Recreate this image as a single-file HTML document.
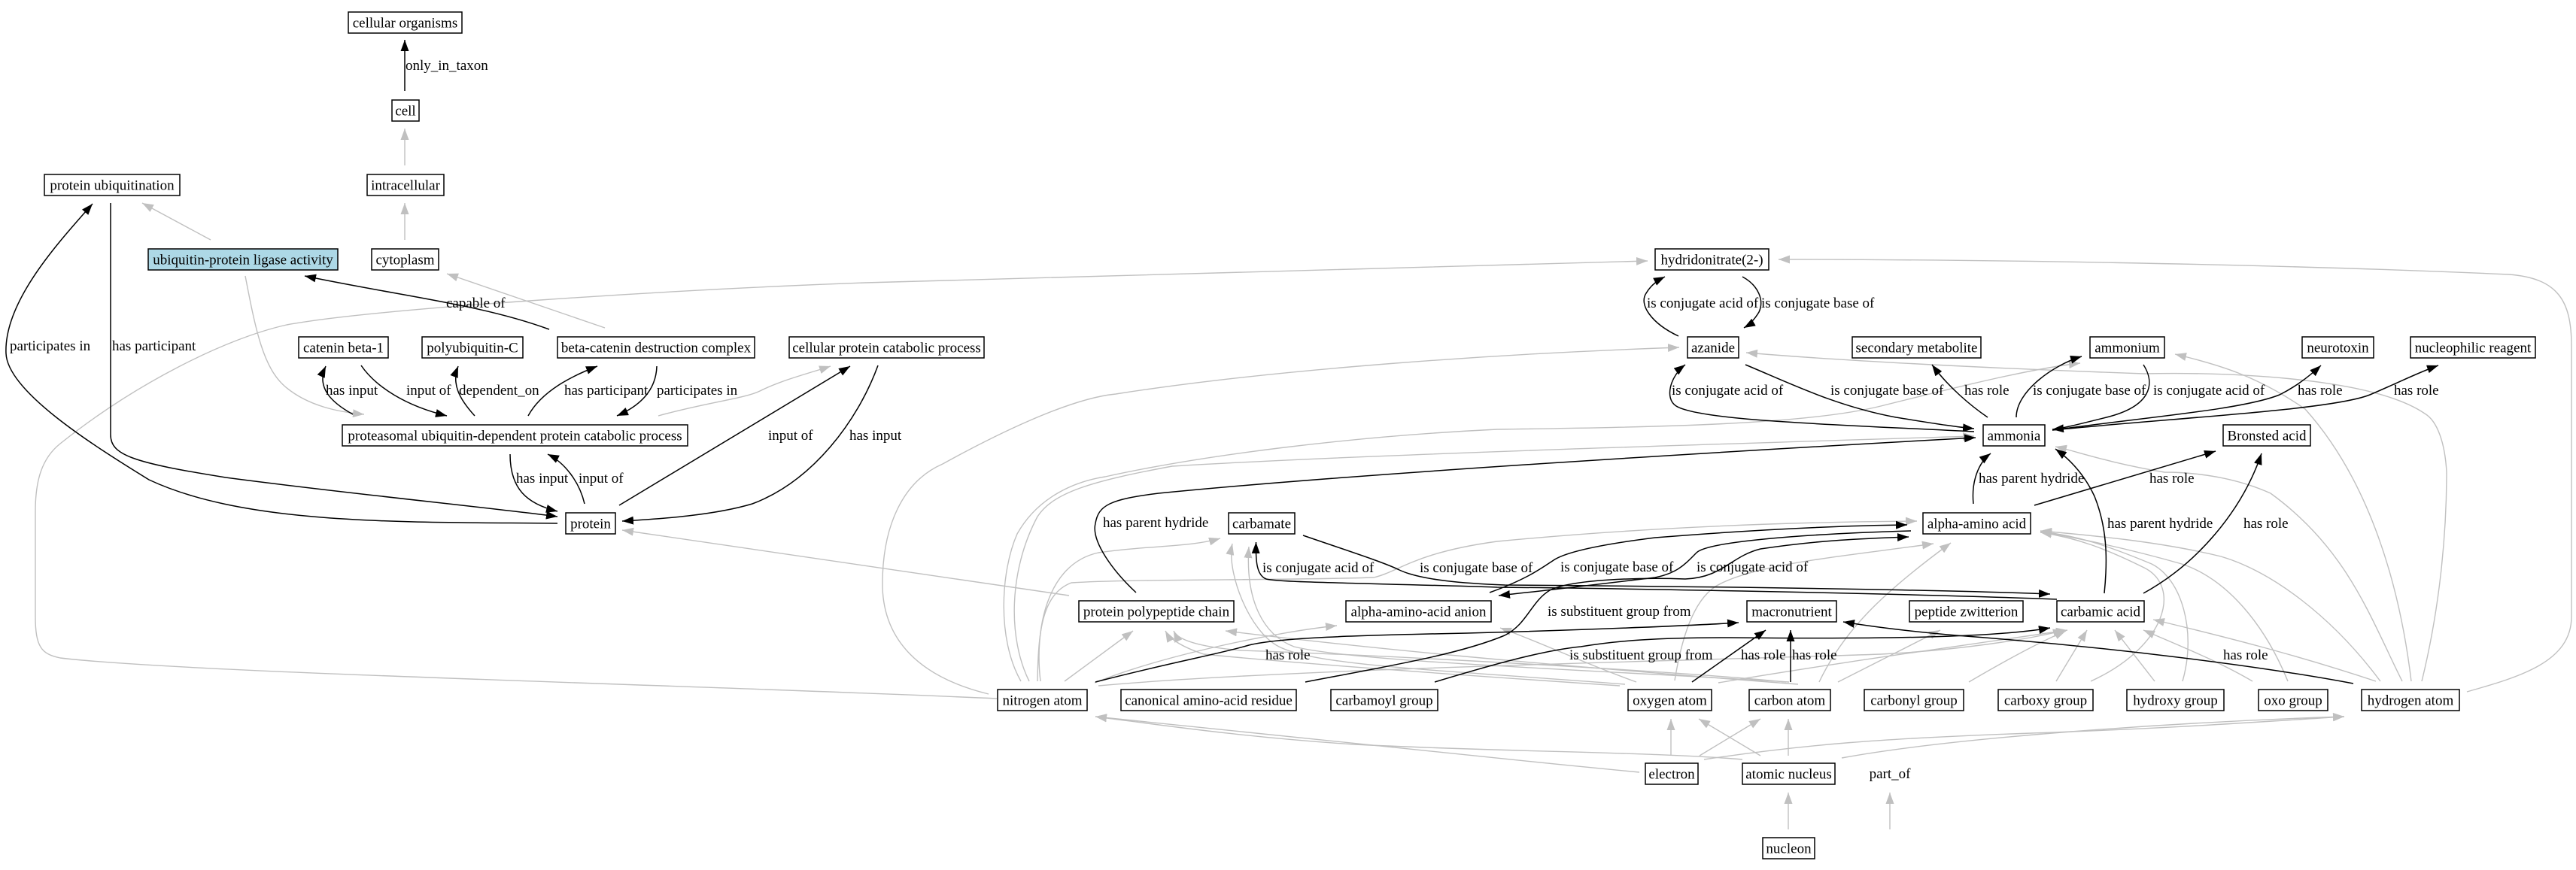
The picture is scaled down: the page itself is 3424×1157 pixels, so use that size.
<!DOCTYPE html>
<html>
<head>
<meta charset="utf-8">
<style>
html,body{margin:0;padding:0;background:#fff;}
svg{display:block;}
text{font-family:"Liberation Serif","Times New Roman",serif;font-size:19px;fill:#000;}
.n rect{fill:#fff;stroke:#000;stroke-width:1.5;}
.n text{text-anchor:middle;}
.g path{fill:none;stroke:#c0c0c0;stroke-width:1.4;marker-end:url(#ag);}
.b path{fill:none;stroke:#000;stroke-width:1.5;marker-end:url(#ab);}
</style>
</head>
<body>
<svg width="3424" height="1157" viewBox="0 0 3424 1157" xmlns="http://www.w3.org/2000/svg">
<defs>
<marker id="ab" markerUnits="userSpaceOnUse" markerWidth="15" markerHeight="11" viewBox="0 0 15 11" refX="15" refY="5.5" orient="auto"><path d="M0,0 L15,5.5 L0,11 z" fill="#000"/></marker>
<marker id="ag" markerUnits="userSpaceOnUse" markerWidth="15" markerHeight="11" viewBox="0 0 15 11" refX="15" refY="5.5" orient="auto"><path d="M0,0 L15,5.5 L0,11 z" fill="#c0c0c0"/></marker>
</defs>
<rect width="3424" height="1157" fill="#fff"/>

<!-- gray edges -->
<g class="g">
<path d="M538,220 L538,171"/>
<path d="M538,319 L538,270"/>
<path d="M280,319 L189,270"/>
<path d="M804,436 L594,364"/>
<path d="M326,367 C340,440 350,490 380,515 C410,540 450,548 484,551"/>
<path d="M875,553 C940,535 990,530 1010,520 C1040,505 1080,495 1104,487"/>
<path d="M1421,792 L827,705"/>
<path d="M1325,929 C900,910 250,895 80,875 C55,870 47,860 47,820 L47,680 C47,640 55,610 80,590 C180,510 300,450 381,432 C500,410 900,385 1150,376 L2190,347"/>
<path d="M1314,923 C1220,900 1175,850 1173,781 C1172,700 1200,640 1253,617 C1320,580 1420,530 1483,524 C1700,490 2000,470 2232,462"/>
<path d="M1357,906 C1325,850 1330,760 1352,710 C1380,660 1430,640 1469,634 C1600,605 1800,580 1990,571 C2200,568 2400,565 2500,540 C2600,515 2700,490 2765,483"/>
<path d="M1368,906 C1340,850 1340,760 1379,687 C1400,655 1450,640 1558,620 C1800,605 2300,590 2624,580"/>
<path d="M1379,906 C1380,840 1385,790 1424,775 C1500,770 1700,772 1826,768 C1860,760 1880,735 1990,720 C2200,700 2400,694 2548,693"/>
<path d="M1383,906 C1375,840 1390,750 1460,735 C1530,725 1580,728 1622,716"/>
<path d="M1415,906 L1506,839"/>
<path d="M1455,908 C1550,870 1700,840 1777,832"/>
<path d="M1460,912 C1700,890 2200,880 2500,870 C2600,865 2700,850 2744,838"/>
<path d="M2153,912 C1900,895 1700,880 1600,870 C1570,860 1555,850 1549,839"/>
<path d="M2160,910 C1900,890 1750,885 1700,860 C1660,840 1630,760 1638,723"/>
<path d="M2175,907 C2100,880 2050,855 1994,835"/>
<path d="M2226,905 C2235,850 2250,800 2280,780 C2330,750 2450,740 2570,723"/>
<path d="M2284,908 C2450,880 2600,860 2748,838"/>
<path d="M2374,907 C2200,890 1800,870 1650,865 C1590,860 1565,850 1560,839"/>
<path d="M2378,907 C2100,890 1800,880 1720,860 C1680,845 1655,800 1660,727"/>
<path d="M2390,910 C2000,880 1800,860 1629,839"/>
<path d="M2418,907 C2450,840 2500,790 2593,722"/>
<path d="M2443,907 L2579,838"/>
<path d="M2617,907 C2680,870 2720,850 2746,839"/>
<path d="M2733,906 L2774,838"/>
<path d="M2779,906 C2880,860 2900,780 2850,755 C2800,730 2760,715 2712,708"/>
<path d="M2864,906 L2811,838"/>
<path d="M2901,906 C2920,840 2900,770 2860,750 C2800,725 2760,712 2712,707"/>
<path d="M2994,906 C2950,880 2900,860 2849,838"/>
<path d="M3041,906 C3010,830 2960,770 2900,750 C2830,730 2760,715 2712,707"/>
<path d="M3158,906 C3050,870 2950,845 2862,824"/>
<path d="M3164,906 C3100,820 3020,760 2952,740 C2870,720 2780,712 2712,706"/>
<path d="M3193,906 C3150,820 3120,730 3018,656 C2960,630 2900,628 2877,628 C2800,615 2760,600 2732,594"/>
<path d="M3205,906 C3190,780 3150,640 3064,544 C3000,500 2950,485 2891,471"/>
<path d="M3219,906 C3245,800 3252,700 3252,628 C3250,590 3240,560 3223,550 C3150,500 2950,495 2850,497 C2650,490 2450,480 2321,469"/>
<path d="M3279,920 C3350,900 3418,880 3418,820 L3418,460 C3418,400 3400,370 3335,365 C3000,350 2600,345 2364,345"/>
<path d="M2179,1027 C1900,1000 1600,970 1456,953"/>
<path d="M2316,1010 C2200,1000 2000,1000 1800,990 C1650,980 1550,965 1456,953"/>
<path d="M2221,1005 L2221,956"/>
<path d="M2259,1005 L2340,956"/>
<path d="M2340,1005 L2258,956"/>
<path d="M2377,1005 L2377,956"/>
<path d="M2448,1008 C2600,980 2900,960 3116,953"/>
<path d="M2265,1010 C2400,990 2500,982 2700,975 C2900,968 3000,960 3116,953"/>
<path d="M2377,1103 L2377,1054"/>
<path d="M2512,1103 L2512,1054"/>
</g>

<!-- black edges -->
<g class="b">
<path d="M538,121 L538,53"/>
<path d="M147,270 L147,578 C147,605 175,615 300,635 C450,655 650,675 741,687"/>
<path d="M741,696 C550,694 330,700 198,638 C120,590 10,520 8,470 C5,400 80,320 123,271"/>
<path d="M730,438 C640,405 540,395 405,367"/>
<path d="M469,551 C440,535 420,515 433,487"/>
<path d="M480,486 C500,515 540,540 594,553"/>
<path d="M631,553 C610,530 600,510 609,487"/>
<path d="M702,553 C720,520 760,500 794,487"/>
<path d="M873,487 C872,520 850,540 820,553"/>
<path d="M823,672 L1130,487"/>
<path d="M1167,486 C1140,560 1080,640 1000,670 C950,685 880,690 827,693"/>
<path d="M678,604 C678,650 700,670 741,680"/>
<path d="M777,670 C770,640 750,615 728,604"/>
<path d="M2231,447 C2195,430 2178,405 2188,390 C2195,378 2205,372 2213,368"/>
<path d="M2316,368 C2338,380 2345,400 2338,415 C2332,425 2325,432 2318,436"/>
<path d="M2624,574 C2450,565 2260,560 2228,540 C2212,530 2220,500 2240,485"/>
<path d="M2320,485 C2380,510 2440,540 2520,555 C2570,563 2600,568 2624,570"/>
<path d="M2642,555 C2620,540 2590,515 2568,485"/>
<path d="M2680,555 C2680,520 2730,485 2767,474"/>
<path d="M2849,485 C2865,510 2860,540 2800,555 C2760,565 2740,570 2728,571"/>
<path d="M2728,572 C2850,555 2980,545 3030,525 C3050,515 3070,500 3085,486"/>
<path d="M2728,572 C2900,555 3100,545 3150,525 C3190,508 3215,495 3241,486"/>
<path d="M1510,788 C1480,760 1450,720 1456,696 C1460,672 1475,664 1540,656 C1800,630 2300,600 2626,582"/>
<path d="M2623,670 C2620,640 2630,615 2646,603"/>
<path d="M2704,672 L2945,600"/>
<path d="M2797,789 C2802,740 2800,700 2784,660 C2770,630 2750,610 2732,597"/>
<path d="M2849,789 C2920,750 2980,680 3006,603"/>
<path d="M2734,797 C2500,788 2100,782 1990,781 C1850,776 1700,775 1683,770 C1670,765 1669,745 1669.5,721"/>
<path d="M1732,712 C1790,732 1840,748 1860,758 C1890,772 1950,776 2000,778 C2300,780 2600,785 2725,790"/>
<path d="M1980,788 C2030,770 2050,755 2065,745 C2080,735 2120,725 2200,715 C2350,703 2450,699 2535,698"/>
<path d="M2540,706 C2400,710 2270,720 2255,735 C2240,750 2230,762 2200,768 C2100,780 2050,786 1992,792"/>
<path d="M1735,907 C1850,885 1940,870 2000,845 C2030,830 2035,800 2060,785 C2090,770 2180,768 2240,770 C2290,768 2300,740 2340,730 C2420,718 2480,716 2537,714"/>
<path d="M1456,907 C1560,880 1620,870 1660,858 C1700,848 1800,845 1950,842 C2100,838 2250,832 2311,828"/>
<path d="M1907,907 C1980,885 2050,865 2101,860 C2150,852 2200,848 2300,848 C2500,850 2650,848 2725,835"/>
<path d="M2249,907 L2347,838"/>
<path d="M2380,907 L2380,838"/>
<path d="M3128,909 C3000,885 2800,860 2600,845 C2520,838 2480,832 2450,827"/>
</g>

<!-- edge labels -->
<g>
<text x="539" y="93">only_in_taxon</text>
<text x="13" y="466">participates in</text>
<text x="149" y="466">has participant</text>
<text x="593" y="409">capable of</text>
<text x="433" y="525">has input</text>
<text x="540" y="525">input of</text>
<text x="610" y="525">dependent_on</text>
<text x="750" y="525">has participant</text>
<text x="873" y="525">participates in</text>
<text x="1021" y="585">input of</text>
<text x="1129" y="585">has input</text>
<text x="686" y="642">has input</text>
<text x="769" y="642">input of</text>
<text x="2189" y="409">is conjugate acid of</text>
<text x="2341" y="409">is conjugate base of</text>
<text x="2222" y="525">is conjugate acid of</text>
<text x="2433" y="525">is conjugate base of</text>
<text x="2611" y="525">has role</text>
<text x="2702" y="525">is conjugate base of</text>
<text x="2862" y="525">is conjugate acid of</text>
<text x="3054" y="525">has role</text>
<text x="3182" y="525">has role</text>
<text x="1466" y="701">has parent hydride</text>
<text x="2630" y="642">has parent hydride</text>
<text x="2857" y="642">has role</text>
<text x="2801" y="702">has parent hydride</text>
<text x="2982" y="702">has role</text>
<text x="1678" y="761">is conjugate acid of</text>
<text x="1887" y="761">is conjugate base of</text>
<text x="2074" y="760">is conjugate base of</text>
<text x="2255" y="760">is conjugate acid of</text>
<text x="2057" y="819">is substituent group from</text>
<text x="1682" y="877">has role</text>
<text x="2086" y="877">is substituent group from</text>
<text x="2314" y="877">has role</text>
<text x="2382" y="877">has role</text>
<text x="2955" y="877">has role</text>
<text x="2512" y="1035" text-anchor="middle">part_of</text>
</g>

<!-- nodes -->
<g class="n">
<rect x="463" y="16" width="151" height="28"/><text x="538.5" y="36.5">cellular organisms</text>
<rect x="521" y="133" width="36" height="28"/><text x="539" y="153.5">cell</text>
<rect x="488" y="232" width="102" height="28"/><text x="539" y="252.5">intracellular</text>
<rect x="59" y="232" width="180" height="28"/><text x="149" y="252.5">protein ubiquitination</text>
<rect x="197" y="331" width="252" height="28" style="fill:#add8e6"/><text x="323" y="351.5">ubiquitin-protein ligase activity</text>
<rect x="494" y="331" width="89" height="28"/><text x="538.5" y="351.5">cytoplasm</text>
<rect x="397" y="448" width="119" height="28"/><text x="456.5" y="468.5">catenin beta-1</text>
<rect x="561" y="448" width="134" height="28"/><text x="628" y="468.5">polyubiquitin-C</text>
<rect x="741" y="448" width="262" height="28"/><text x="872" y="468.5">beta-catenin destruction complex</text>
<rect x="1049" y="448" width="259" height="28"/><text x="1178.5" y="468.5">cellular protein catabolic process</text>
<rect x="455" y="565" width="459" height="28"/><text x="684.5" y="585.5">proteasomal ubiquitin-dependent protein catabolic process</text>
<rect x="752" y="682" width="66" height="28"/><text x="785" y="702.5">protein</text>
<rect x="2200" y="331" width="151" height="28"/><text x="2275.5" y="351.5">hydridonitrate(2-)</text>
<rect x="2243" y="448" width="68" height="28"/><text x="2277" y="468.5">azanide</text>
<rect x="2462" y="448" width="171" height="28"/><text x="2547.5" y="468.5">secondary metabolite</text>
<rect x="2778" y="448" width="99" height="28"/><text x="2827.5" y="468.5">ammonium</text>
<rect x="3060" y="448" width="95" height="28"/><text x="3107.5" y="468.5">neurotoxin</text>
<rect x="3204" y="448" width="166" height="28"/><text x="3287" y="468.5">nucleophilic reagent</text>
<rect x="2636" y="565" width="82" height="28"/><text x="2677" y="585.5">ammonia</text>
<rect x="2955" y="565" width="116" height="28"/><text x="3013" y="585.5">Bronsted acid</text>
<rect x="1633" y="682" width="88" height="28"/><text x="1677" y="702.5">carbamate</text>
<rect x="2556" y="682" width="143" height="28"/><text x="2627.5" y="702.5">alpha-amino acid</text>
<rect x="1434" y="799" width="206" height="28"/><text x="1537" y="819.5">protein polypeptide chain</text>
<rect x="1789" y="799" width="193" height="28"/><text x="1885.5" y="819.5">alpha-amino-acid anion</text>
<rect x="2322" y="799" width="119" height="28"/><text x="2381.5" y="819.5">macronutrient</text>
<rect x="2538" y="799" width="151" height="28"/><text x="2613.5" y="819.5">peptide zwitterion</text>
<rect x="2734" y="799" width="116" height="28"/><text x="2792" y="819.5">carbamic acid</text>
<rect x="1326" y="917" width="119" height="28"/><text x="1385.5" y="937.5">nitrogen atom</text>
<rect x="1490" y="917" width="233" height="28"/><text x="1606.5" y="937.5">canonical amino-acid residue</text>
<rect x="1769" y="917" width="142" height="28"/><text x="1840" y="937.5">carbamoyl group</text>
<rect x="2164" y="917" width="111" height="28"/><text x="2219.5" y="937.5">oxygen atom</text>
<rect x="2325" y="917" width="108" height="28"/><text x="2379" y="937.5">carbon atom</text>
<rect x="2478" y="917" width="132" height="28"/><text x="2544" y="937.5">carbonyl group</text>
<rect x="2656" y="917" width="126" height="28"/><text x="2719" y="937.5">carboxy group</text>
<rect x="2827" y="917" width="129" height="28"/><text x="2891.5" y="937.5">hydroxy group</text>
<rect x="3002" y="917" width="92" height="28"/><text x="3048" y="937.5">oxo group</text>
<rect x="3139" y="917" width="130" height="28"/><text x="3204" y="937.5">hydrogen atom</text>
<rect x="2187" y="1015" width="70" height="28"/><text x="2222" y="1035.5">electron</text>
<rect x="2316" y="1015" width="123" height="28"/><text x="2377.5" y="1035.5">atomic nucleus</text>
<rect x="2343" y="1114" width="69" height="28"/><text x="2377.5" y="1134.5">nucleon</text>
</g>
</svg>
</body>
</html>
